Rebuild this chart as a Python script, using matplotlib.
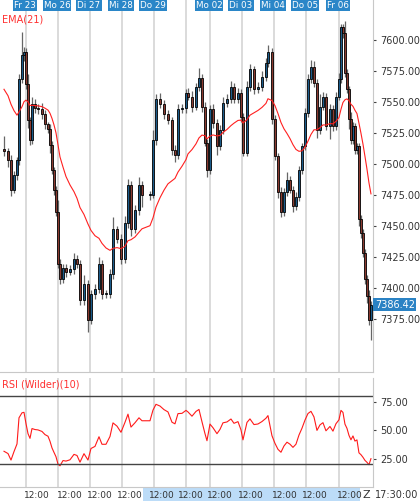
import matplotlib
matplotlib.use("Agg")
import matplotlib.pyplot as plt
import numpy as np

# bar time stamps (chart time units)
bar_time = [4,8,11,14,17,19,22,24,26,28,30,32,35,38,42,45,48,50,52,54,
            56,58,60,63,66,70,74,77,80,84,88,91,95,99,102,106,110,113,117,121,
            125,128,131,135,139,142,150,153,156,160,164,168,172,175,178,182,186,188,192,196,
            199,202,205,207,210,213,217,220,223,227,231,234,238,241,243,247,250,254,258,262,
            266,268,272,275,278,281,284,287,290,293,296,299,302,305,308,311,314,317,320,323,
            326,330,333,336,339,341,343,345,347,349,351,353,355,357,359,361,363,365,367,369,371]
closes = [7510,7503,7479,7491,7503,7568,7588,7590,7564,7535,7519,7548,7545,7544,7540,7532,7528,7515,7495,7479,
          7461,7419,7407,7416,7413,7415,7423,7419,7390,7403,7374,7395,7399,7419,7395,7395,7411,7447,7439,7423,
          7452,7483,7447,7463,7483,7475,7475,7519,7552,7548,7540,7535,7511,7507,7544,7545,7557,7554,7546,7562,
          7569,7546,7517,7495,7544,7533,7514,7527,7549,7552,7562,7552,7557,7538,7509,7562,7576,7560,7562,7570,
          7581,7590,7536,7506,7477,7461,7477,7487,7479,7466,7473,7495,7514,7541,7568,7578,7565,7527,7546,7554,
          7530,7544,7530,7554,7568,7610,7605,7573,7560,7536,7519,7530,7511,7514,7455,7444,7428,7407,7393,7374,7386.42]
first_open = 7512
wick_hi = [10,3,4,3,2,4,18,4,3,8,3,6,4,3,5,3,2,4,3,2,
           3,10,4,3,3,3,5,3,3,7,3,3,4,6,3,3,4,10,3,4,
           6,5,3,4,6,3,3,8,4,5,3,3,3,4,4,3,3,4,5,3,
           8,3,4,3,3,4,3,4,5,4,5,3,4,3,3,5,4,3,4,5,
           4,6,3,3,3,4,3,6,3,3,4,3,3,4,4,6,5,3,10,4,
           3,4,3,4,5,3,3,10,3,3,6,4,3,3,3,4,3,3,3,5,3]
wick_lo = [4,6,5,3,4,4,3,5,4,6,4,3,4,4,4,4,3,6,3,4,
           3,3,4,3,4,3,4,3,4,4,10,3,4,3,4,3,3,4,3,4,
           3,4,5,3,4,10,4,3,4,3,4,3,4,6,3,3,4,3,4,3,
           3,4,3,6,3,4,7,3,3,3,3,3,3,4,3,3,3,4,3,3,
           3,3,4,3,5,4,3,3,3,5,3,3,3,3,3,3,3,6,3,3,
           3,10,4,3,3,3,4,3,3,8,3,3,3,3,5,4,3,4,5,4,16]
grid_time = [26,58,90,122,154,186,210,242,274,306,339]
day_labels = ["Fr 23","Mo 26","Di 27","Mi 28","Do 29",None,"Mo 02","Di 03","Mi 04","Do 05","Fr 06"]
time_label_pos = [37,70,100,130,162,191,220,251,285,315,350]
time_labels = ["12:00"]*11
main_ticks = [7375,7400,7425,7450,7475,7500,7525,7550,7575,7600]
rsi_ticks = [25,50,75]

n = len(closes)
x = np.array(bar_time, dtype=float)
opens = [first_open] + closes[:-1]
highs = [max(o, c) + w for o, c, w in zip(opens, closes, wick_hi)]
lows = [min(o, c) - w for o, c, w in zip(opens, closes, wick_lo)]

alpha = 2 / 22
ema = [7560.0]
for c in closes[1:]:
    ema.append(ema[-1] + alpha * (c - ema[-1]))

ag, al = 4.0, 8.5
rsi = []
prev = first_open
for c in closes:
    d = c - prev
    prev = c
    ag = (ag * 9 + max(d, 0)) / 10
    al = (al * 9 + max(-d, 0)) / 10
    rsi.append(100 - 100 / (1 + ag / al) if al > 0 else 100)

fig = plt.figure(figsize=(4.2, 5.01), dpi=100)
ax = fig.add_axes([0.0, 0.2575, 0.888, 0.7425])
ax2 = fig.add_axes([0.0, 0.028, 0.888, 0.2175])
xl = (0, 373)
for a in (ax, ax2):
    a.set_xlim(*xl)
    for g in grid_time:
        a.axvline(g, color="#d4d4d4", lw=1.2, zorder=0)
    for s in ("top", "left"):
        a.spines[s].set_visible(False)
    a.spines["right"].set_color("#c8c8c8")
    a.spines["bottom"].set_color("#c8c8c8")
    a.yaxis.tick_right()
    a.set_xticks([])
    a.tick_params(axis="y", labelsize=7, colors="#444444", length=2, labelcolor="#333333")

up_c, dn_c = "#1b5b8a", "#8a3a30"
for i in range(n):
    o, c = opens[i], closes[i]
    ax.vlines(x[i], lows[i], highs[i], color="#666666", lw=0.9, zorder=2)
    ax.bar(x[i], max(abs(c - o), 0.5), bottom=min(o, c), width=1.8,
           color=up_c if c >= o else dn_c, edgecolor="black", lw=0.6, zorder=3)
ax.plot(x, ema, color="#ff2020", lw=0.8, zorder=4)
ax.set_ylim(7332, 7632)
ax.set_yticks(main_ticks)
ax.set_yticklabels([f"{t:.2f}" for t in main_ticks])
ax.text(0.005, 0.935, "EMA(21)", transform=ax.transAxes, color="#ff3030", fontsize=7, va="bottom")
ax.text(1.005, (closes[-1] - 7332) / 300, f"{closes[-1]:.2f}", transform=ax.transAxes, fontsize=7,
        color="white", va="center", ha="left",
        bbox=dict(boxstyle="square,pad=0.15", fc="#2a82c4", ec="none"))
for g, lab in zip(grid_time, day_labels):
    if lab:
        ax.text(g - 1, 0.997, lab, transform=ax.get_xaxis_transform(), fontsize=6.3, color="white",
                ha="center", va="top", bbox=dict(boxstyle="square,pad=0.12", fc="#2a86c8", ec="none"))

ax2.plot(x, rsi, color="#ff1a1a", lw=0.8)
ax2.axhline(80, color="#444444", lw=1.0)
ax2.axhline(20, color="#444444", lw=1.0)
ax2.set_ylim(0, 96)
ax2.set_yticks(rsi_ticks)
ax2.set_yticklabels([f"{t:.2f}" for t in rsi_ticks])
ax2.text(0.005, 0.99, "RSI (Wilder)(10)", transform=ax2.transAxes, color="#ff3030", fontsize=7, va="top")

fig.patches.append(plt.Rectangle((143 / 420, 0), (360 - 143) / 420, 0.026, transform=fig.transFigure,
                                 fc="#bcdcf8", ec="none", zorder=-5))
for p, lab in zip(time_label_pos, time_labels):
    ax2.text(p, -0.035, lab, transform=ax2.get_xaxis_transform(), fontsize=6.5, color="#333333",
             ha="center", va="top", zorder=10)
fig.text(366 / 420, 0.012, "Z", fontsize=8, color="#333333", ha="center", va="center", zorder=10)
fig.text(0.995, 0.012, "17:30:00", fontsize=7, color="#333333", ha="right", va="center", zorder=10)

fig.savefig("out.png", dpi=100)
